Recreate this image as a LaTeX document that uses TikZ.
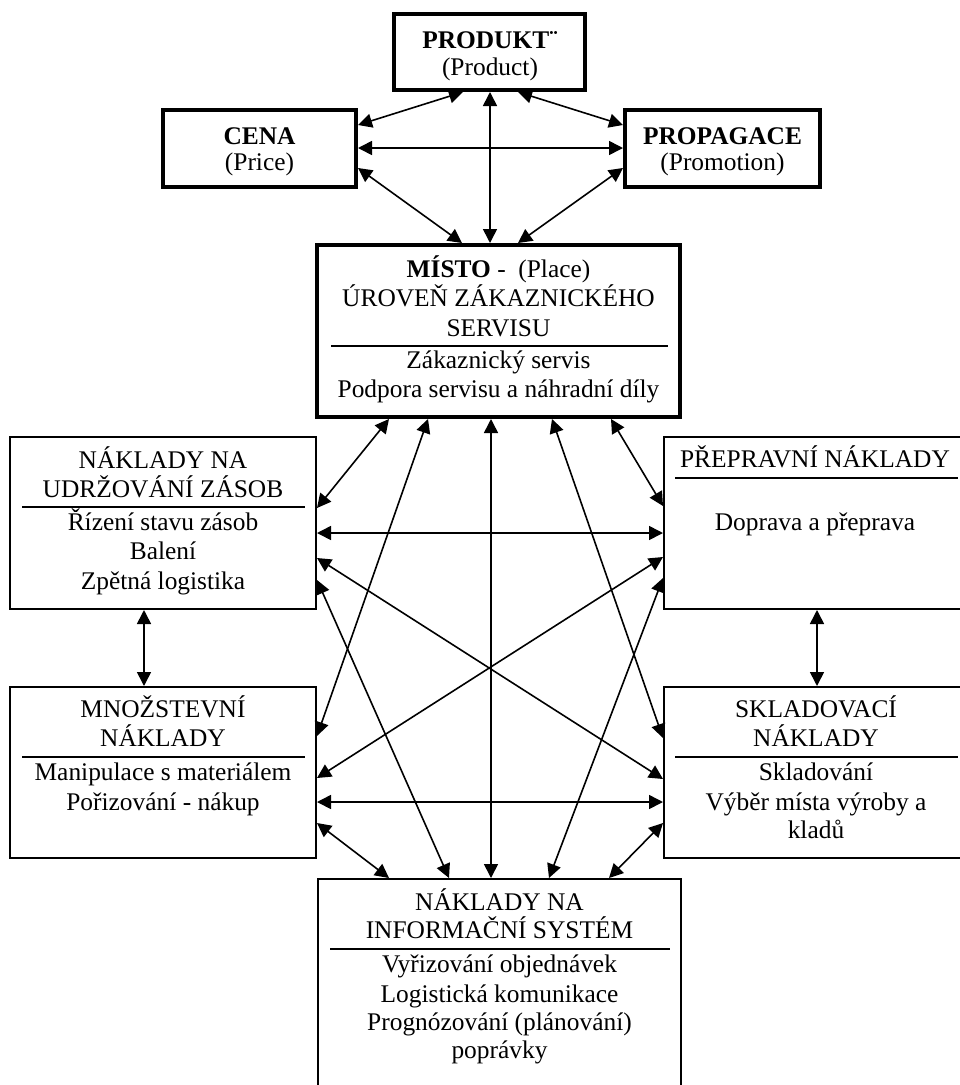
\documentclass[tikz,border=0pt]{standalone}
\usepackage{fontspec}
\setmainfont{Liberation Serif}
\usetikzlibrary{arrows.meta}
\begin{document}
\begin{tikzpicture}[x=1pt,y=-1pt,
  thickbox/.style={draw, line width=4pt, inner sep=0pt, rectangle},
  thinbox/.style={draw, line width=2pt, inner sep=0pt, rectangle},
  txt/.style={anchor=base, inner sep=0pt, font=\fontsize{25.4}{29}\selectfont},
  divider/.style={line width=2pt},
  link/.style={line width=1.6pt, {Triangle[length=14pt,width=14pt]}-{Triangle[length=14pt,width=14pt]}}]
\useasboundingbox (0,0) rectangle (960,1085);
\clip (0,0) rectangle (960,1085);
\fill[white] (0,0) rectangle (960,1085);

% boxes
\node[thickbox, minimum width=191pt, minimum height=76pt] (produkt) at (489.5,52) {};
\node[thickbox, minimum width=193pt, minimum height=77pt] (cena) at (259.5,148.5) {};
\node[thickbox, minimum width=195pt, minimum height=77pt] (propag) at (722.5,148.5) {};
\node[thickbox, minimum width=363pt, minimum height=172pt] (misto) at (498.5,331) {};
\node[thinbox, minimum width=306pt, minimum height=172pt] (udrz) at (163,523) {};
\node[thinbox, minimum width=305pt, minimum height=172pt] (prep) at (816.5,523) {};
\node[thinbox, minimum width=306pt, minimum height=171pt] (mnoz) at (163,772.5) {};
\node[thinbox, minimum width=305pt, minimum height=171pt] (sklad) at (816.5,772.5) {};
\node[thinbox, minimum width=363pt, minimum height=240pt] (info) at (499.5,999) {};

% dividers
\draw[divider] (331,346) -- (668,346);
\draw[divider] (22,507) -- (305,507);
\draw[divider] (675,478) -- (958,478);
\draw[divider] (22,757) -- (305,757);
\draw[divider] (675,757) -- (958,757);
\draw[divider] (330,949) -- (670,949);

% texts
\node[txt] (t1) at (490,48) {\textbf{PRODUKT¨}};
\node[txt] (t2) at (490,75) {(Product)};
\node[txt] (t3) at (259.5,144) {\textbf{CENA}};
\node[txt] (t4) at (259.5,170) {(Price)};
\node[txt] (t5) at (722.5,144) {\textbf{PROPAGACE}};
\node[txt] (t6) at (722.5,170) {(Promotion)};

\node[txt] (t7) at (498.5,277) {\textbf{MÍSTO} -\ \ (Place)};
\node[txt] (t8) at (498.5,306) {ÚROVEŇ ZÁKAZNICKÉHO};
\node[txt] (t9) at (498.5,336) {SERVISU};
\node[txt] (t10) at (498.5,368) {Zákaznický servis};
\node[txt] (t11) at (498.5,397) {Podpora servisu a náhradní díly};

\node[txt] (t12) at (163,468) {NÁKLADY NA};
\node[txt] (t13) at (163,497) {UDRŽOVÁNÍ ZÁSOB};
\node[txt] (t14) at (163,530) {Řízení stavu zásob};
\node[txt] (t15) at (163,559) {Balení};
\node[txt] (t16) at (163,589) {Zpětná logistika};

\node[txt] (t17) at (815,467) {PŘEPRAVNÍ NÁKLADY};
\node[txt] (t18) at (815,530) {Doprava a přeprava};

\node[txt] (t19) at (163,717) {MNOŽSTEVNÍ};
\node[txt] (t20) at (163,746) {NÁKLADY};
\node[txt] (t21) at (163,780) {Manipulace s materiálem};
\node[txt] (t22) at (163,810) {Pořizování - nákup};

\node[txt] (t23) at (816,717) {SKLADOVACÍ};
\node[txt] (t24) at (816,746) {NÁKLADY};
\node[txt] (t25) at (816,780) {Skladování};
\node[txt] (t26) at (816,810) {Výběr místa výroby a};
\node[txt] (t27) at (816,838) {kladů};

\node[txt] (t28) at (499.5,910) {NÁKLADY NA};
\node[txt] (t29) at (499.5,938) {INFORMAČNÍ SYSTÉM};
\node[txt] (t30) at (499.5,972) {Vyřizování objednávek};
\node[txt] (t31) at (499.5,1002) {Logistická komunikace};
\node[txt] (t32) at (499.5,1030) {Prognózování (plánování)};
\node[txt] (t33) at (499.5,1058) {poprávky};

% top connectors
\draw[link] (produkt.south -| 463,0) -- (cena.east |- 0,125);
\draw[link] (produkt.south -| 518,0) -- (propag.west |- 0,125);
\draw[link] (cena.east |- 0,148) -- (propag.west |- 0,148);
\draw[link] (produkt.south -| 490,0) -- (misto.north -| 490,0);
\draw[link] (cena.east |- 0,168) -- (misto.north -| 462,0);
\draw[link] (propag.west |- 0,168) -- (misto.north -| 518,0);

% lower connectors
\draw[link] (misto.south -| 389,0) -- (udrz.east |- 0,508);
\draw[link] (misto.south -| 428,0) -- (mnoz.east |- 0,736);
\draw[link] (misto.south -| 491,0) -- (info.north -| 491,0);
\draw[link] (misto.south -| 552,0) -- (sklad.west |- 0,738);
\draw[link] (misto.south -| 611,0) -- (prep.west |- 0,506);
\draw[link] (udrz.east |- 0,533) -- (prep.west |- 0,533);
\draw[link] (udrz.east |- 0,558) -- (sklad.west |- 0,779);
\draw[link] (udrz.east |- 0,580) -- (info.north -| 449,0);
\draw[link] (prep.west |- 0,557) -- (mnoz.east |- 0,778);
\draw[link] (prep.west |- 0,578) -- (info.north -| 549,0);
\draw[link] (udrz.south -| 144,0) -- (mnoz.north -| 144,0);
\draw[link] (prep.south -| 817,0) -- (sklad.north -| 817,0);
\draw[link] (mnoz.east |- 0,802) -- (sklad.west |- 0,802);
\draw[link] (mnoz.east |- 0,823) -- (info.north -| 389,0);
\draw[link] (sklad.west |- 0,823) -- (info.north -| 609,0);
\end{tikzpicture}
\end{document}
